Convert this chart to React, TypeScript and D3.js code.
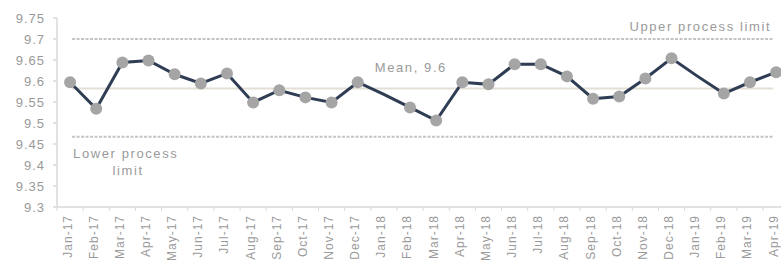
import React, { useEffect, useRef } from "react";
import * as d3 from "d3";

const months = [
  "Jan-17", "Feb-17", "Mar-17", "Apr-17", "May-17", "Jun-17", "Jul-17", "Aug-17",
  "Sep-17", "Oct-17", "Nov-17", "Dec-17", "Jan-18", "Feb-18", "Mar-18", "Apr-18",
  "May-18", "Jun-18", "Jul-18", "Aug-18", "Sep-18", "Oct-18", "Nov-18", "Dec-18",
  "Jan-19", "Feb-19", "Mar-19", "Apr-19",
];
const values = [
  9.597, 9.534, 9.644, 9.649, 9.616, 9.594, 9.618, 9.549,
  9.578, 9.561, 9.549, 9.597, 9.568, 9.537, 9.506, 9.597,
  9.592, 9.640, 9.640, 9.611, 9.558, 9.563, 9.606, 9.654,
  9.611, 9.570, 9.597, 9.621,
];
// months drawn without a marker in the original
const noMarker = ["Jan-18", "Jan-19"];
const yTicks = [9.3, 9.35, 9.4, 9.45, 9.5, 9.55, 9.6, 9.65, 9.7, 9.75];
const upperLimit = 9.7;
const lowerLimit = 9.467;
const meanValue = 9.582;

const W = 781;
const H = 262;
const FONT = "'Liberation Sans', Arial, sans-serif";

export default function App() {
  const ref = useRef<SVGSVGElement>(null);

  useEffect(() => {
    const svg = d3.select(ref.current);
    svg.selectAll("*").remove();

    const left = 57;
    const step = 26.15;
    const x = d3.scaleBand().domain(months).range([left, left + step * months.length]);
    const cx = (m: string) => (x(m) as number) + x.bandwidth() / 2;
    const y = d3.scaleLinear().domain([9.3, 9.75]).range([207, 18]);

    const axisCol = "#d9d9d9";
    const textCol = "#9a9a9a";

    // y axis
    svg.append("line")
      .attr("x1", left).attr("x2", left)
      .attr("y1", y(9.75)).attr("y2", y(9.3))
      .attr("stroke", axisCol).attr("stroke-width", 1.5);
    yTicks.forEach(t => {
      svg.append("line")
        .attr("x1", left - 4).attr("x2", left)
        .attr("y1", y(t)).attr("y2", y(t))
        .attr("stroke", axisCol).attr("stroke-width", 1.5);
      svg.append("text")
        .attr("x", 45).attr("y", y(t)).attr("dy", "0.35em")
        .attr("text-anchor", "end")
        .style("font-family", FONT).style("font-size", "13px")
        .style("letter-spacing", "1px")
        .attr("fill", textCol)
        .text(String(+t.toFixed(2)));
    });

    // x axis
    svg.append("line")
      .attr("x1", left).attr("x2", left + step * months.length)
      .attr("y1", y(9.3)).attr("y2", y(9.3))
      .attr("stroke", axisCol).attr("stroke-width", 1.5);
    months.forEach(m => {
      svg.append("line")
        .attr("x1", x(m) as number).attr("x2", x(m) as number)
        .attr("y1", y(9.3)).attr("y2", y(9.3) + 4)
        .attr("stroke", axisCol).attr("stroke-width", 1);
      const tx = cx(m);
      const ty = y(9.3) + 8;
      svg.append("text")
        .attr("transform", `translate(${tx},${ty}) rotate(-90)`)
        .attr("dy", "0.12em")
        .attr("text-anchor", "end")
        .style("font-family", FONT).style("font-size", "12px")
        .style("letter-spacing", "1px")
        .attr("fill", textCol)
        .text(m);
    });

    const x0 = cx(months[0]) + 2;
    const x1 = cx(months[months.length - 1]) - 3;

    // mean line
    svg.append("line")
      .attr("x1", x0).attr("x2", x1)
      .attr("y1", y(meanValue)).attr("y2", y(meanValue))
      .attr("stroke", "#e4dfd5").attr("stroke-width", 2);

    // process limits
    [upperLimit, lowerLimit].forEach(v => {
      svg.append("line")
        .attr("x1", x0).attr("x2", x1)
        .attr("y1", y(v)).attr("y2", y(v))
        .attr("stroke", "#c4c4c4").attr("stroke-width", 2)
        .attr("stroke-dasharray", "3,1.5");
    });

    // series line
    const line = d3.line<number>()
      .x((_, i) => cx(months[i]))
      .y(d => y(d));
    svg.append("path")
      .datum(values)
      .attr("d", line)
      .attr("fill", "none")
      .attr("stroke", "#2f3d54")
      .attr("stroke-width", 3);

    svg.selectAll(".pt")
      .data(values.map((v, i) => ({ m: months[i], v })).filter(d => !noMarker.includes(d.m)))
      .enter()
      .append("circle")
      .attr("class", "pt")
      .attr("cx", d => cx(d.m))
      .attr("cy", d => y(d.v))
      .attr("r", 6)
      .attr("fill", "#a5a5a5");

    const label = (tx: number, ty: number, s: string, anchor: string) =>
      svg.append("text")
        .attr("x", tx).attr("y", ty)
        .attr("text-anchor", anchor)
        .style("font-family", FONT).style("font-size", "13px")
        .style("letter-spacing", "1.6px")
        .attr("fill", textCol)
        .text(s);

    label(x1 - 2, y(upperLimit) - 8, "Upper process limit", "end");
    label(cx("Dec-17") + 17, y(meanValue) - 17, "Mean, 9.6", "start");
    label(x0 + 1, y(lowerLimit) + 21, "Lower process", "start");
    label(x0 + 56, y(lowerLimit) + 38, "limit", "middle");
  }, []);

  return (
    <svg
      ref={ref}
      width={W}
      height={H}
      style={{ position: "absolute", left: 0, top: 0, background: "#fff" }}
    />
  );
}
